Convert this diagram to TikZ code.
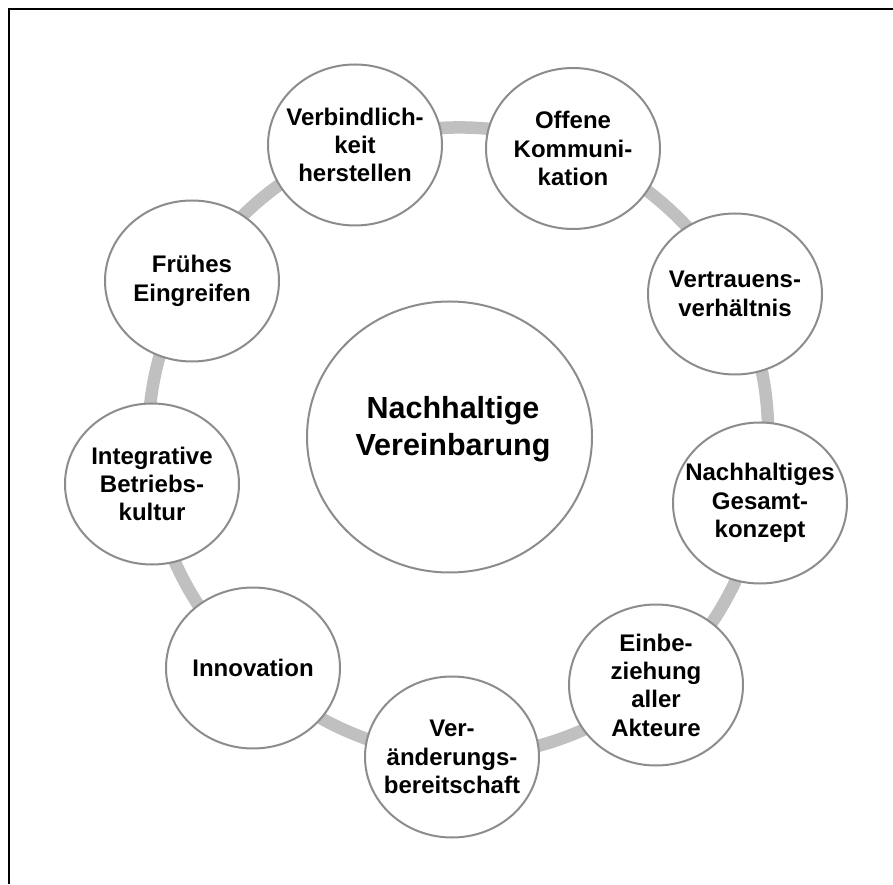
\documentclass[tikz,border=0pt]{standalone}
\usepackage{fontspec}
\setmainfont{Liberation Sans}
\usetikzlibrary{shapes.geometric,backgrounds}
\definecolor{ringgray}{RGB}{192,192,192}
\definecolor{bordergray}{RGB}{140,140,140}
\begin{document}
\begin{tikzpicture}[x=1pt,y=1pt,
  bubble/.style={ellipse, draw=bordergray, line width=2pt, fill=white,
    minimum width=174pt, minimum height=161pt, inner sep=0pt},
  bigbubble/.style={ellipse, draw=bordergray, line width=2pt, fill=white,
    minimum width=285pt, minimum height=271pt, inner sep=0pt},
  bubbletext/.style={align=center, inner sep=0pt,
    font=\fontsize{24}{28.3}\selectfont\bfseries},
  bigtext/.style={align=center, inner sep=0pt,
    font=\fontsize{30.5}{36.7}\selectfont\bfseries},
  ringseg/.style={draw=ringgray, line width=12.5pt, bend left=20, looseness=0.88}]
\useasboundingbox (0,0) rectangle (893,884);
% frame
\draw[line width=2.5pt] (9,0) -- (9,875) -- (893,875);
% outer bubbles
\node[bubble] (n1) at (355,739) {};
\node[bubble] (n2) at (573,735.5) {};
\node[bubble] (n3) at (735,590) {};
\node[bubble] (n4) at (760,381) {};
\node[bubble] (n5) at (656,199) {};
\node[bubble] (n6) at (452,127) {};
\node[bubble] (n7) at (253,216) {};
\node[bubble] (n8) at (152,400) {};
\node[bubble] (n9) at (192,603) {};
\node[bubbletext] (t1) at (n1) {Verbindlich-\\keit\\herstellen};
\node[bubbletext] (t2) at (n2) {Offene\\Kommuni-\\kation};
\node[bubbletext] (t3) at (n3) {Vertrauens-\\verhältnis};
\node[bubbletext] (t4) at (n4) {Nachhaltiges\\Gesamt-\\konzept};
\node[bubbletext] (t5) at (n5) {Einbe-\\ziehung\\aller\\Akteure};
\node[bubbletext] (t6) at (n6) {Ver-\\änderungs-\\bereitschaft};
\node[bubbletext] (t7) at (n7) {Innovation};
\node[bubbletext] (t8) at (n8) {Integrative\\Betriebs-\\kultur};
\node[bubbletext] (t9) at (n9) {Frühes\\Eingreifen};
% central bubble
\node[bigbubble] (c) at (449.5,447) {};
\node[bigtext] (ct) at (453,455) {Nachhaltige\\Vereinbarung};
% ring (drawn centre to centre behind the filled bubbles)
\begin{scope}[on background layer]
\draw[ringseg] (n1.center) to (n2.center);
\draw[ringseg] (n2.center) to (n3.center);
\draw[ringseg] (n3.center) to (n4.center);
\draw[ringseg] (n4.center) to (n5.center);
\draw[ringseg] (n5.center) to (n6.center);
\draw[ringseg] (n6.center) to (n7.center);
\draw[ringseg] (n7.center) to (n8.center);
\draw[ringseg] (n8.center) to (n9.center);
\draw[ringseg] (n9.center) to (n1.center);
\end{scope}
\end{tikzpicture}
\end{document}
